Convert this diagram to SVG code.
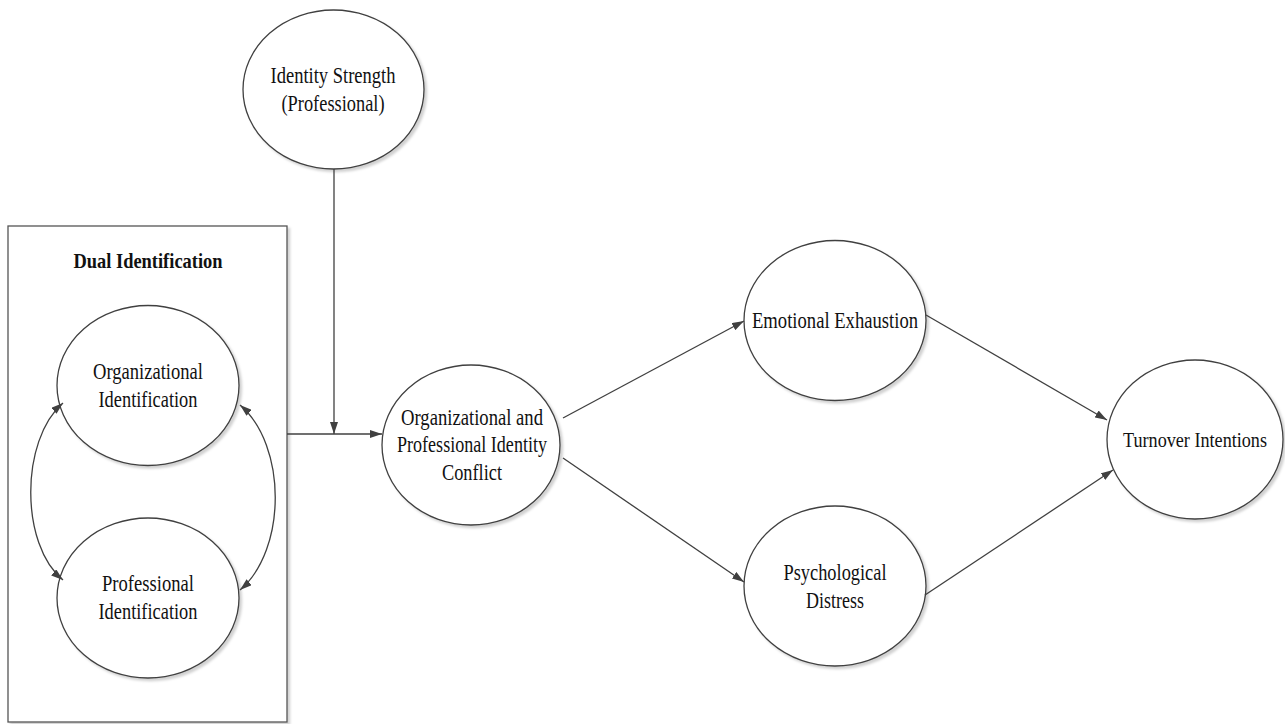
<svg xmlns="http://www.w3.org/2000/svg" width="1285" height="724" viewBox="0 0 1285 724">
<style>
.node ellipse{fill:#fff;stroke:#404040;stroke-width:1.3;filter:url(#sh)}
.frame{fill:#fff;stroke:#555;stroke-width:1.3;filter:url(#sh)}
text{font-family:"Liberation Serif","Times New Roman",serif;font-size:23px;fill:#111;text-anchor:middle}
.title{font-weight:bold;font-size:21px}
.edge{fill:none;stroke:#404040;stroke-width:1.3}
</style>
<defs>
<filter id="sh" x="-5%" y="-5%" width="110%" height="110%">
<feDropShadow dx="2.5" dy="2.5" stdDeviation="1.2" flood-color="#000" flood-opacity="0.18"/>
</filter>
<marker id="ah" viewBox="0 0 12 8" refX="12" refY="4" markerWidth="12" markerHeight="8" markerUnits="userSpaceOnUse" orient="auto-start-reverse">
<path d="M0,0 L12,4 L0,8 Z" fill="#404040"/>
</marker>
</defs>

<g id="dual-identification">
<rect class="frame" x="8" y="226" width="279" height="496"/>
<text class="title" x="148" y="268" textLength="149" lengthAdjust="spacingAndGlyphs">Dual Identification</text>
</g>

<g id="organizational-identification" class="node">
<ellipse cx="148" cy="385.5" rx="91" ry="80"/>
<text x="148" y="379" textLength="110" lengthAdjust="spacingAndGlyphs">Organizational</text>
<text x="148" y="407" textLength="99" lengthAdjust="spacingAndGlyphs">Identification</text>
</g>

<g id="professional-identification" class="node">
<ellipse cx="148" cy="598" rx="91" ry="80"/>
<text x="148" y="591" textLength="92" lengthAdjust="spacingAndGlyphs">Professional</text>
<text x="148" y="619" textLength="99" lengthAdjust="spacingAndGlyphs">Identification</text>
</g>

<g id="identity-strength" class="node">
<ellipse cx="333.5" cy="89.5" rx="90.5" ry="79.5"/>
<text x="333" y="83" textLength="125" lengthAdjust="spacingAndGlyphs">Identity Strength</text>
<text x="333" y="111" textLength="103" lengthAdjust="spacingAndGlyphs">(Professional)</text>
</g>

<g id="identity-conflict" class="node">
<ellipse cx="471" cy="445" rx="89" ry="80"/>
<text x="472" y="425" textLength="142" lengthAdjust="spacingAndGlyphs">Organizational and</text>
<text x="472" y="452" textLength="150" lengthAdjust="spacingAndGlyphs">Professional Identity</text>
<text x="472" y="480" textLength="60" lengthAdjust="spacingAndGlyphs">Conflict</text>
</g>

<g id="emotional-exhaustion" class="node">
<ellipse cx="835" cy="320.5" rx="91" ry="80"/>
<text x="835" y="328" textLength="166" lengthAdjust="spacingAndGlyphs">Emotional Exhaustion</text>
</g>

<g id="psychological-distress" class="node">
<ellipse cx="835" cy="586" rx="91" ry="80"/>
<text x="835" y="580" textLength="103" lengthAdjust="spacingAndGlyphs">Psychological</text>
<text x="835" y="608" textLength="58" lengthAdjust="spacingAndGlyphs">Distress</text>
</g>

<g id="turnover-intentions" class="node">
<ellipse cx="1195" cy="439.5" rx="88" ry="79.5"/>
<text x="1195" y="447" style="font-size:21px" textLength="144" lengthAdjust="spacingAndGlyphs">Turnover Intentions</text>
</g>

<g id="connectors">
<path class="edge" d="M63,403 C20,440 20,545 63,580" marker-start="url(#ah)" marker-end="url(#ah)"/>
<path class="edge" d="M240,405 C287,445 287,550 240,590" marker-start="url(#ah)" marker-end="url(#ah)"/>
<path class="edge" d="M287,434 L382,434" marker-end="url(#ah)"/>
<path class="edge" d="M334,169 L334,434" marker-end="url(#ah)"/>
<path class="edge" d="M563,418 L744,321" marker-end="url(#ah)"/>
<path class="edge" d="M563,458 L744,582" marker-end="url(#ah)"/>
<path class="edge" d="M926,315 L1107,420" marker-end="url(#ah)"/>
<path class="edge" d="M925,595 L1113,470" marker-end="url(#ah)"/>
</g>
</svg>
